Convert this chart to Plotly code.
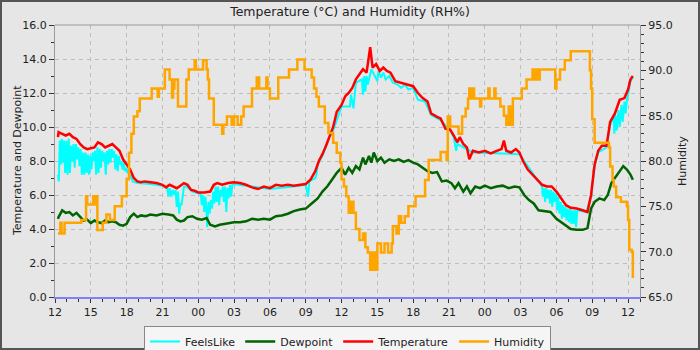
import numpy as np
import pandas as pd
import plotly.graph_objects as go

# ---- data (hours since start, values) ----
temp_hours = [0.25, 0.3, 0.6, 0.9, 1.2, 1.5, 1.8, 2.1, 2.4, 2.7, 3.0, 3.3, 3.6, 3.9, 4.2, 4.5, 4.8, 5.1, 5.4, 5.7,
              6.0, 6.3, 6.6, 6.9, 7.2, 7.5, 8.0, 8.5, 9.0, 9.3, 9.6, 9.9, 10.2, 10.5, 10.8, 11.1, 11.4, 11.7, 12.0,
              12.5, 13.0, 13.3, 13.6, 14.0, 14.5, 15.0, 15.5, 16.0, 16.5, 17.0, 17.5, 18.0, 18.5, 19.0, 19.5, 20.0,
              20.5, 21.0, 21.4, 21.8, 22.1, 22.4, 22.7, 23.0, 23.3, 23.6, 24.0, 24.3, 24.6, 24.9, 25.2, 25.5, 25.8,
              26.1, 26.4, 26.6, 26.9, 27.2, 27.5, 27.8, 28.1, 28.5, 29.0, 29.5, 30.0, 30.4, 30.8, 31.2, 31.5, 32.0,
              32.3, 32.7, 33.1, 33.4, 33.7, 33.9, 34.2, 34.5, 34.7, 35.0, 35.5, 36.0, 36.5, 37.0, 37.4, 37.6, 37.8,
              38.2, 38.6, 38.9, 39.2, 39.6, 40.0, 40.4, 40.8, 41.2, 41.6, 42.0, 42.4, 42.8, 43.2, 43.7, 44.2, 44.6,
              44.9, 45.2, 45.5, 45.8, 46.2, 46.5, 46.9, 47.3, 47.7, 48.0, 48.2, 48.4]
temperature = [9.4, 9.7, 9.6, 9.5, 9.6, 9.4, 9.3, 9.0, 8.8, 8.7, 8.75, 8.8, 9.1, 9.0, 8.8, 8.9, 9.0, 8.8, 8.6, 8.1,
               7.8, 7.5, 7.0, 6.8, 6.75, 6.8, 6.75, 6.7, 6.6, 6.45, 6.6, 6.5, 6.4, 6.55, 6.7, 6.6, 6.3, 6.25, 6.15,
               6.15, 6.2, 6.6, 6.7, 6.6, 6.7, 6.75, 6.7, 6.6, 6.45, 6.35, 6.5, 6.4, 6.6, 6.55, 6.6, 6.55,
               6.6, 6.65, 6.9, 7.4, 8.0, 8.4, 8.9, 9.5, 10.0, 10.9, 11.3, 11.8, 12.0, 12.3, 12.8, 13.1, 13.4,
               13.2, 14.7, 13.5, 13.7, 13.3, 13.5, 13.3, 13.2, 12.7, 12.6, 12.5, 12.4, 12.0, 11.7, 11.5, 10.8, 10.6,
               10.5, 9.9, 9.85, 9.5, 9.1, 9.4, 9.0, 8.8, 8.1, 8.6, 8.5, 8.6, 8.45, 8.6, 8.7, 9.2, 8.6,
               8.5, 8.7, 8.5, 8.0, 7.5, 7.2, 6.9, 6.6, 6.5, 6.5, 6.2, 5.8, 5.4, 5.25, 5.2, 5.1, 5.0,
               6.0, 7.8, 8.6, 8.9, 8.9, 10.3, 10.8, 11.6, 11.7, 12.2, 12.8, 13.0]

dew_hours = [0.25, 0.3, 0.6, 0.9, 1.2, 1.5, 1.8, 2.1, 2.4, 2.7, 3.0, 3.3, 3.6, 3.9, 4.2, 4.5, 4.8, 5.1, 5.4, 5.7,
             6.0, 6.3, 6.6, 6.9, 7.2, 7.6, 8.0, 8.5, 9.0, 9.5, 9.9, 10.2, 10.5, 10.8, 11.1, 11.5, 11.9, 12.3, 12.7,
             13.0, 13.4, 13.8, 14.2, 14.6, 15.0, 15.5, 16.0, 16.5, 17.0, 17.5, 18.0, 18.5, 19.0, 19.5, 20.0, 20.5,
             21.0, 21.5, 22.0, 22.4, 22.8, 23.2, 23.6, 24.0, 24.3, 24.6, 24.9, 25.2, 25.5, 25.8, 26.0, 26.3, 26.5,
             26.7, 27.0, 27.3, 27.6, 28.0, 28.4, 28.8, 29.2, 29.6, 30.0, 30.4, 30.8, 31.2, 31.6, 32.0, 32.4, 32.8,
             33.2, 33.5, 33.8, 34.2, 34.5, 34.8, 35.2, 35.6, 36.0, 36.5, 37.0, 37.5, 38.0, 38.5, 38.9, 39.3, 39.7,
             40.1, 40.5, 41.0, 41.5, 42.0, 42.4, 42.8, 43.2, 43.7, 44.2, 44.6, 44.9, 45.2, 45.6, 46.0, 46.3, 46.6,
             47.0, 47.3, 47.6, 47.9, 48.2, 48.4]
dewpoint = [4.6, 4.7, 5.1, 4.95, 5.0, 4.8, 4.95, 4.7, 4.5, 4.55, 4.35, 4.5, 4.4, 4.35, 4.5, 4.4, 4.45, 4.4, 4.25, 4.2,
            4.3, 4.7, 4.9, 4.7, 4.8, 4.75, 4.85, 4.8, 4.9, 4.85, 4.8, 4.55, 4.45, 4.5, 4.7, 4.75, 4.6, 4.55, 4.65,
            4.25, 4.15, 4.25, 4.3, 4.35, 4.4, 4.4, 4.45, 4.6, 4.55, 4.6, 4.55, 4.75, 4.8, 4.9, 5.05, 5.15,
            5.2, 5.5, 5.8, 6.2, 6.5, 6.9, 7.3, 7.6, 7.2, 7.6, 7.3, 7.7, 7.5, 8.2, 7.8, 8.3, 7.9,
            8.5, 8.0, 8.2, 7.9, 8.1, 8.0, 8.1, 7.95, 8.05, 7.9, 7.8, 7.6, 7.4, 7.3, 7.35, 6.8, 6.85,
            6.7, 6.4, 6.7, 6.2, 6.5, 6.1, 6.5, 6.4, 6.55, 6.4, 6.5, 6.55, 6.4, 6.5, 6.45, 6.0, 5.7,
            5.5, 5.1, 5.05, 5.0, 4.6, 4.4, 4.15, 4.0, 3.95, 3.95, 4.05, 5.2, 5.6, 5.8, 5.7, 6.0, 6.7,
            7.1, 7.4, 7.7, 7.5, 7.2, 6.9]

feels_hours = [0.25, 0.32, 0.4, 0.5, 0.58, 0.66, 0.75, 0.85, 0.95, 1.05, 1.15, 1.25, 1.35, 1.45, 1.55, 1.65, 1.75,
               1.85, 1.95, 2.05, 2.15, 2.25, 2.35, 2.45, 2.55, 2.65, 2.75, 2.85, 2.95, 3.05, 3.15, 3.25, 3.35, 3.45,
               3.55, 3.65, 3.75, 3.85, 3.95, 4.05, 4.15, 4.25, 4.35, 4.45, 4.55, 4.65, 4.75, 4.85, 4.95, 5.05, 5.15,
               5.25, 5.35, 5.45, 5.55, 5.65, 5.75, 5.85, 5.95, 6.05, 6.15, 6.25, 6.35, 6.5,
               6.9, 8.0, 9.0, 9.4,
               9.5, 9.6, 9.75, 9.85, 10.0, 10.1, 10.2, 10.3, 10.4, 10.5, 10.6, 10.7, 10.8, 11.0, 11.5, 12.0,
               12.2, 12.3, 12.4, 12.5, 12.6, 12.7, 12.75, 12.85, 12.95, 13.05, 13.15, 13.25, 13.35, 13.45, 13.55,
               13.65, 13.75, 13.85, 13.95, 14.05, 14.15, 14.25, 14.35, 14.45, 14.55, 14.65, 14.75, 14.85, 15.0,
               16.0, 18.0, 20.0, 21.0, 21.2, 21.3, 21.8, 21.9, 22.0, 22.4, 23.0, 23.3, 24.0, 24.7, 24.8, 25.0,
               25.2, 25.7, 25.8, 25.9, 26.0, 26.1, 26.2, 26.5, 27.0, 27.1, 27.3, 27.5, 27.7, 28.0, 28.3, 28.7,
               29.0, 29.3, 29.6, 30.0, 30.4, 31.0, 31.5, 32.3, 33.1, 33.4, 33.6, 33.7, 34.5, 35.0, 38.9, 40.5,
               40.8, 40.85, 40.95, 41.05, 41.15, 41.25, 41.35, 41.45, 41.55, 41.65, 41.75, 41.85, 41.95, 42.05,
               42.15, 42.25, 42.35, 42.45, 42.55, 42.65, 42.75, 42.85, 42.95, 43.05, 43.15, 43.25, 43.35, 43.45,
               43.55, 43.65, 43.75, 44.5, 44.9, 45.2, 45.5, 46.2, 46.5, 46.8, 46.85, 46.95, 47.05, 47.2, 47.3,
               47.45, 47.55, 47.7, 47.8, 47.9, 48.0, 48.2, 48.4]
feels_like = [7.2, 6.8, 9.2, 7.8, 9.3, 7.9, 9.2, 7.3, 9.2, 7.2, 9.3, 7.3, 8.9, 8.0, 9.0, 7.6, 9.0,
              8.1, 8.8, 7.7, 8.7, 7.2, 8.5, 7.2, 8.5, 7.3, 8.4, 7.2, 8.3, 7.5, 8.5, 8.0, 8.6, 7.2,
              8.8, 7.3, 8.7, 7.6, 8.6, 8.0, 8.5, 7.2, 8.6, 7.8, 8.7, 7.9, 8.7, 8.2, 8.6, 7.5, 8.4,
              7.4, 8.3, 7.8, 8.0, 7.5, 7.9, 7.4, 7.6, 7.3, 7.5, 7.0, 7.2, 6.8,
              6.7, 6.65, 6.55, 6.4,
              5.9, 6.4, 5.9, 6.3, 6.0, 6.3, 5.3, 6.2, 4.9, 5.5, 5.4, 5.9, 6.5, 6.5, 6.2, 6.1,
              6.1, 5.4, 6.0, 5.0, 5.9, 4.9, 4.1, 5.6, 4.9, 5.7, 5.2, 6.2, 5.5, 6.5, 5.6,
              6.5, 5.4, 6.3, 5.9, 6.5, 5.6, 6.5, 5.0, 6.4, 5.8, 6.6, 5.9, 6.6, 6.65,
              6.55, 6.35, 6.5, 6.6, 5.9, 6.8, 7.0, 7.2, 7.8, 8.3, 9.4, 9.8, 11.2, 11.2, 11.9, 11.1,
              12.6, 12.8, 11.9, 13.0, 12.1, 13.0, 12.5, 13.4, 12.7, 13.3, 12.9, 13.2, 12.8, 13.0, 12.6, 12.5,
              12.3, 12.5, 12.2, 12.3, 11.6, 11.5, 10.7, 10.4, 9.8, 9.4, 8.6, 9.0, 8.7, 8.5, 8.4, 6.8,
              6.5, 5.9, 6.4, 5.6, 6.4, 5.8, 6.3, 5.5, 6.3, 5.3, 6.2, 5.6, 6.1, 5.1,
              5.9, 4.9, 5.6, 4.6, 5.4, 4.7, 5.3, 4.5, 5.2, 4.4, 5.2, 4.3, 5.1, 4.3,
              5.1, 4.1, 5.1, 5.0, 5.9, 7.7, 8.5, 8.8, 10.1, 10.6, 9.6, 10.7, 9.8, 11.0, 10.0,
              11.3, 10.3, 11.5, 10.8, 11.6, 11.9, 12.7, 12.9]

hum_hours = [0.25, 0.45, 0.55, 0.8, 2.2, 2.6, 2.7, 3.2, 3.3, 3.4, 3.55, 4.0, 4.3, 4.6, 5.0, 5.6, 6.0, 6.2, 6.4,
             6.6, 6.9, 7.1, 8.1, 8.6, 8.7, 9.2, 9.6, 9.8, 9.9, 10.0, 10.3, 11.0, 11.1, 11.2, 11.7, 11.8, 12.4,
             12.7, 12.8, 12.9, 13.3, 14.0, 14.1, 14.4, 14.8, 15.0, 15.3, 15.6, 15.8, 16.5, 16.9, 17.1, 17.3,
             17.7, 17.8, 18.0, 18.7, 19.6, 20.3, 20.9, 21.5, 21.7, 21.9, 22.1, 22.6, 22.9, 23.3, 23.6, 23.9,
             24.0, 24.2, 24.4, 24.6, 24.8, 25.0, 25.2, 25.5, 25.8, 26.0, 26.2, 26.4, 26.6, 26.8, 27.0, 27.3,
             27.6, 27.9, 28.2, 28.3, 28.6, 28.8, 29.0, 29.3, 29.6, 30.2, 31.0, 31.3, 32.3, 32.8, 32.9, 33.1,
             33.8, 34.1, 34.4, 34.6, 34.7, 34.8, 35.0, 35.1, 35.3, 35.6, 35.7, 36.3, 36.4, 36.8, 36.9, 37.0,
             37.3, 37.6, 37.8, 38.0, 38.2, 38.35, 39.1, 39.5, 40.0, 40.1, 40.3, 40.4, 40.6, 41.9, 42.0, 42.3,
             42.7, 43.2, 44.8, 44.9, 45.0, 45.2, 46.4, 46.5, 46.7, 46.8, 47.0, 47.4, 47.9, 48.0, 48.1, 48.3,
             48.4]
humidity = [72.0, 73.2, 72.0, 73.2, 73.5, 76.1, 75.2, 76.1, 75.2, 76.1, 72.4, 73.2, 74.1, 73.5, 75.0, 76.1, 78.0,
            80.9, 83.0, 84.9, 85.5, 86.9, 88.0, 87.1, 88.0, 90.1, 89.0, 87.0, 88.0, 89.0, 86.0, 89.0, 89.0,
            90.1, 91.1, 90.1, 91.1, 90.1, 89.0, 86.9, 84.0, 83.0, 84.0, 84.9, 84.0, 84.9, 84.0, 84.9, 86.0,
            88.0, 89.2, 88.0, 88.0, 89.2, 88.0, 86.9, 89.2, 90.1, 91.2, 90.1, 89.2, 88.0, 87.1, 86.0, 84.2,
            83.1, 82.0, 80.9, 79.8, 78.0, 77.2, 76.1, 74.3, 75.5, 74.3, 72.5, 71.3, 72.0, 70.5, 69.9, 68.0,
            69.9, 68.0, 70.9, 69.9, 70.9, 69.9, 70.9, 72.8, 72.0, 73.9, 73.2, 73.9, 75.0, 76.1, 77.9, 80.1,
            81.0, 80.1, 84.9, 83.8, 83.0, 84.9, 85.8, 86.9, 88.0, 86.9, 88.0, 86.9, 86.9, 86.0, 86.9, 88.0,
            86.9, 88.0, 86.9, 86.9, 86.0, 85.0, 84.0, 86.0, 84.0, 86.9, 88.0, 89.0, 90.1, 89.0, 90.1, 89.0,
            90.1, 88.0, 89.0, 90.1, 91.1, 92.1, 90.0, 88.0, 84.6, 82.0, 81.5, 79.4, 77.9, 77.2, 76.0, 75.5,
            75.0, 73.5, 70.2, 70.0, 67.1]

left_range = [0, 16]
right_range = [65, 95]
span_hours = 49

base = pd.Timestamp("2024-01-01 12:00")


def to_time(hours):
    return base + pd.to_timedelta(np.array(hours), unit="h")


FONT = "DejaVu Sans"
W, H = 700, 350
ML, MR, MT, MB = 55, 60, 25, 53
PW, PH = W - ML - MR, H - MT - MB

fig = go.Figure()
fig.add_trace(go.Scatter(x=to_time(feels_hours), y=feels_like, name="FeelsLike", mode="lines",
                         line=dict(color="#00ffff", width=2)))
fig.add_trace(go.Scatter(x=to_time(dew_hours), y=dewpoint, name="Dewpoint", mode="lines",
                         line=dict(color="#006400", width=2.5)))
fig.add_trace(go.Scatter(x=to_time(temp_hours), y=temperature, name="Temperature", mode="lines",
                         line=dict(color="#ff0000", width=2.5)))
fig.add_trace(go.Scatter(x=to_time(hum_hours), y=humidity, name="Humidity", mode="lines", yaxis="y2",
                         line=dict(color="#ffa500", width=2.5, shape="hv")))

bx0, bx1 = -ML / PW, 1 + MR / PW
by0, by1 = -MB / PH, 1 + MT / PH

fig.update_layout(
    width=W, height=H,
    margin=dict(l=ML, r=MR, t=MT, b=MB, autoexpand=False),
    paper_bgcolor="#e6e6e6",
    plot_bgcolor="#e6e6e6",
    font=dict(family=FONT, size=11, color="#222222"),
    title=dict(text="Temperature (°C) and Humidity (RH%)", x=0.5, xanchor="center",
               y=1 - 12 / H, yanchor="middle", font=dict(size=12.5, color="#222222")),
    showlegend=True,
    legend=dict(orientation="h", x=0.5, xanchor="center", y=-29 / PH, yanchor="top",
                bgcolor="#f5f5f5", bordercolor="#888888", borderwidth=1,
                font=dict(size=11, color="#222222"), itemwidth=30, tracegroupgap=0),
    xaxis=dict(type="date", range=[base, base + pd.Timedelta(hours=span_hours)],
               tick0=base, dtick=3 * 3600 * 1000, tickformat="%H",
               ticks="outside", ticklen=4, tickcolor="#333333",
               minor=dict(dtick=3600 * 1000, ticks="outside", ticklen=3, tickcolor="#333333",
                          showgrid=False),
               showgrid=True, gridcolor="#bdbdbd", griddash="4px,4px", gridwidth=1,
               showline=True, linecolor="#8080ff", linewidth=2,
               zeroline=False, tickfont=dict(size=11), automargin=False),
    yaxis=dict(range=left_range, dtick=2, tickformat=".1f", ticks="outside", ticklen=5,
               tickcolor="#333333",
               minor=dict(dtick=1, ticks="outside", ticklen=3, tickcolor="#333333", showgrid=False),
               showgrid=True, gridcolor="#bdbdbd", griddash="4px,4px", gridwidth=1,
               showline=True, linecolor="#999999", linewidth=1, zeroline=False,
               tickfont=dict(size=11), automargin=False),
    yaxis2=dict(range=right_range, dtick=5, tickformat=".1f", overlaying="y", side="right",
                ticks="outside", ticklen=5, tickcolor="#333333",
                minor=dict(dtick=1, ticks="outside", ticklen=3, tickcolor="#333333", showgrid=False),
                showgrid=False, showline=True, linecolor="#999999", linewidth=1, zeroline=False,
                tickfont=dict(size=11), automargin=False),
    shapes=[
        dict(type="line", xref="paper", yref="paper", x0=0, x1=1, y0=1, y1=1,
             line=dict(color="#999999", width=1)),
        dict(type="rect", xref="paper", yref="paper", x0=bx0, x1=bx1, y0=by0, y1=by1,
             line=dict(color="#555555", width=4), fillcolor="rgba(0,0,0,0)", layer="above"),
    ],
    annotations=[
        dict(text="Temperature and Dewpoint", xref="paper", yref="paper", x=(17 - ML) / PW, y=0.5,
             xanchor="center", yanchor="middle", textangle=-90, showarrow=False,
             font=dict(size=11, color="#222222")),
        dict(text="Humidity", xref="paper", yref="paper", x=(682 - ML) / PW, y=0.5,
             xanchor="center", yanchor="middle", textangle=-90, showarrow=False,
             font=dict(size=11, color="#222222")),
    ],
)

fig.write_html("out.html")
